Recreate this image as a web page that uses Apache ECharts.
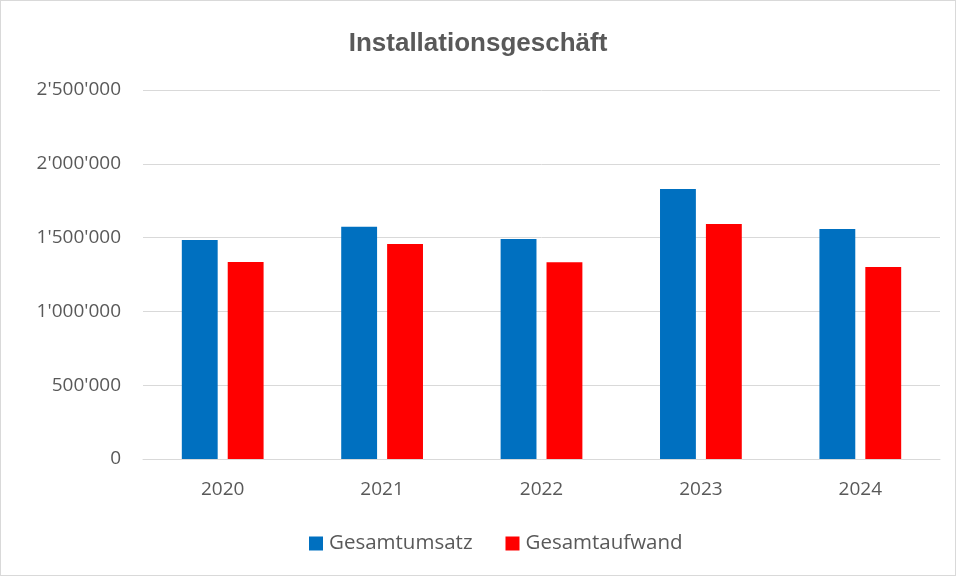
<!DOCTYPE html>
<html>
<head>
<meta charset="utf-8">
<script src="https://cdn.jsdelivr.net/npm/echarts@6/dist/echarts.min.js"></script>
<style>
html,body{margin:0;padding:0;background:#fff;}
#chart{width:954px;height:574px;border:1px solid #d9d9d9;}
</style>
</head>
<body>
<div id="chart"></div>
<script>
var years = ['2020', '2021', '2022', '2023', '2024'];
var umsatz = [1484000, 1573000, 1491000, 1829000, 1558000];
var aufwand = [1335000, 1457000, 1333000, 1592000, 1301000];
var yTicks = [0, 500000, 1000000, 1500000, 2000000, 2500000];

function fmt(v){
  return String(v).replace(/\B(?=(\d{3})+(?!\d))/g, "'");
}

var chart = echarts.init(document.getElementById('chart'));
var option = {
  animation: false,
  title: {
    text: 'Installationsgeschäft',
    left: 'center',
    top: 25,
    textStyle: {fontFamily: 'Liberation Sans', fontSize: 26, fontWeight: 'bold', color: '#595959'}
  },
  legend: {
    bottom: 16,
    left: 303,
    itemWidth: 14,
    itemHeight: 14,
    itemGap: 33,
    icon: 'rect',
    textStyle: {fontFamily: 'Open Sans', fontSize: 20.5, color: '#595959', padding: [0, 0, 0, 1]},
    data: ['Gesamtumsatz', 'Gesamtaufwand']
  },
  grid: {left: 142, right: 15, top: 89, bottom: 116},
  xAxis: {
    type: 'category',
    data: years,
    axisTick: {show: false},
    axisLine: {lineStyle: {color: '#d9d9d9'}},
    axisLabel: {fontFamily: 'Open Sans', fontSize: 19, color: '#595959', margin: 21}
  },
  yAxis: {
    type: 'value',
    min: yTicks[0],
    max: yTicks[yTicks.length - 1],
    interval: 500000,
    axisLine: {show: false},
    axisTick: {show: false},
    splitLine: {lineStyle: {color: '#d9d9d9'}},
    axisLabel: {fontFamily: 'Open Sans', fontSize: 19, color: '#595959', margin: 22, formatter: fmt}
  },
  series: [
    {name: 'Gesamtumsatz', type: 'bar', data: umsatz, barWidth: '22.5%', barGap: '28%',
      itemStyle: {color: '#0070c0'}},
    {name: 'Gesamtaufwand', type: 'bar', data: aufwand, barWidth: '22.5%',
      itemStyle: {color: '#ff0000'}}
  ]
};
chart.setOption(option);
</script>
</body>
</html>
